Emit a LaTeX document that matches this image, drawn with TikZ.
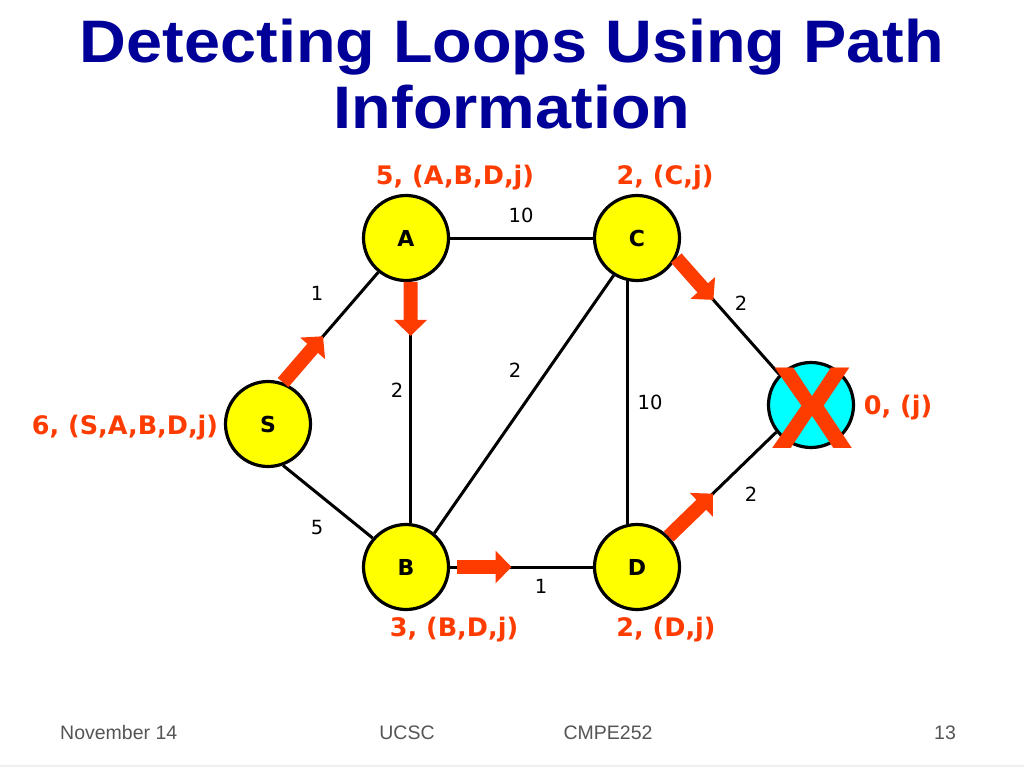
\documentclass[tikz,border=0pt]{standalone}
\usepackage{fontspec}
\setmainfont{DejaVu Sans}
\newfontfamily\titlefont[FakeStretch=1.08]{Liberation Sans}
\newfontfamily\arialfont{Liberation Sans}
\usetikzlibrary{arrows.meta,calc}
\definecolor{titleblue}{HTML}{000099}
\definecolor{redorange}{HTML}{FF3C00}
\definecolor{nodeyellow}{HTML}{FFFF00}
\definecolor{nodecyan}{HTML}{00FFFF}
\definecolor{footgray}{HTML}{555555}
\tikzset{
  router/.style={circle, draw=black, line width=3.2pt, fill=nodeyellow, minimum size=85pt, inner sep=0pt,
    font=\fontsize{22}{22}\selectfont\bfseries},
  dest/.style={router, fill=nodecyan},
  link/.style={draw=black, line width=3pt},
  weight/.style={font=\fontsize{19.5}{19.5}\selectfont, inner sep=0pt},
  pathlabel/.style={font=\fontsize{25.5}{25.5}\selectfont\bfseries, text=redorange, inner sep=0pt},
  flow/.style={draw=redorange, line width=14pt, line cap=butt, -{Triangle[length=16pt,width=32pt]}},
  footer/.style={font=\arialfont\fontsize{19.5}{19.5}\selectfont, text=footgray, inner sep=0pt},
  titletext/.style={font=\titlefont\fontsize{60}{60}\selectfont\bfseries, text=titleblue, inner sep=0pt, anchor=base}
}
\begin{document}
\begin{tikzpicture}[x=1pt,y=-1pt]
\useasboundingbox (0,0) rectangle (1024,768);
\fill[white] (0,0) rectangle (1024,768);
\draw[gray!12, line width=1.2pt] (0,766) -- (1024,766);

% title
\node[titletext] (t1) at (512,63) {Detecting Loops Using Path};
\node[titletext] (t2) at (512,128) {Information};

% nodes
\node[router] (A) at (406,238) {A};
\node[router] (C) at (637,238) {C};
\node[router] (S) at (268,424) {S};
\node[router] (B) at (406,567) {B};
\node[router] (D) at (637,567) {D};
\node[dest] (J) at (811,405) {};

% links
\draw[link] (A) -- (C);
\draw[link] (S.70) -- (A.231);
\draw[link] (A.276) -- (B.84);
\draw[link] (B.50) -- (C.238);
\draw[link] (C.257) -- (D.103);
\draw[link] (S.290) -- (B.139.5);
\draw[link] (B) -- (D);
\draw[link] (C.333) -- (J.136);
\draw[link] (D.44) -- (J.218);

% flow arrows
\draw[flow] (S.70) -- ($(S.70)!0.42!(A.231)$);
\draw[flow] (A.276) -- ($(A.276)!0.224!(B.84)$);
\draw[flow] ($(B.east)!0.05!(D.west)$) -- ($(B.east)!0.43!(D.west)$);
\draw[flow] (C.333) -- ($(C.333)!0.36!(J.136)$);
\draw[flow] (D.44) -- ($(D.44)!0.41!(J.218)$);

% big X over destination
\node[font=\arialfont\fontsize{117}{117}\selectfont\bfseries, text=redorange, inner sep=0pt, xscale=1.05] (X) at (812,408) {X};

% weights
\node[weight] (wAC) at (521,215) {10};
\node[weight] (wSA) at (317,293) {1};
\node[weight] (wCJ) at (741,303) {2};
\node[weight] (wBC) at (515,370) {2};
\node[weight] (wAB) at (397,390) {2};
\node[weight] (wCD) at (650,402) {10};
\node[weight] (wDJ) at (751,494) {2};
\node[weight] (wSB) at (317,528) {5};
\node[weight] (wBD) at (541,586) {1};

% path labels
\node[pathlabel] (lA) at (455,178) {5, (A,B,D,j)};
\node[pathlabel] (lC) at (665,178) {2, (C,j)};
\node[pathlabel] (lS) at (125,428) {6, (S,A,B,D,j)};
\node[pathlabel] (lJ) at (898,408) {0, (j)};
\node[pathlabel] (lB) at (454,630) {3, (B,D,j)};
\node[pathlabel] (lD) at (666,630) {2, (D,j)};

% footer
\node[footer, anchor=west] (f1) at (60,733) {November 14};
\node[footer] (f2) at (407,733) {UCSC};
\node[footer] (f3) at (608,733) {CMPE252};
\node[footer] (f4) at (945,733) {13};
\end{tikzpicture}
\end{document}
